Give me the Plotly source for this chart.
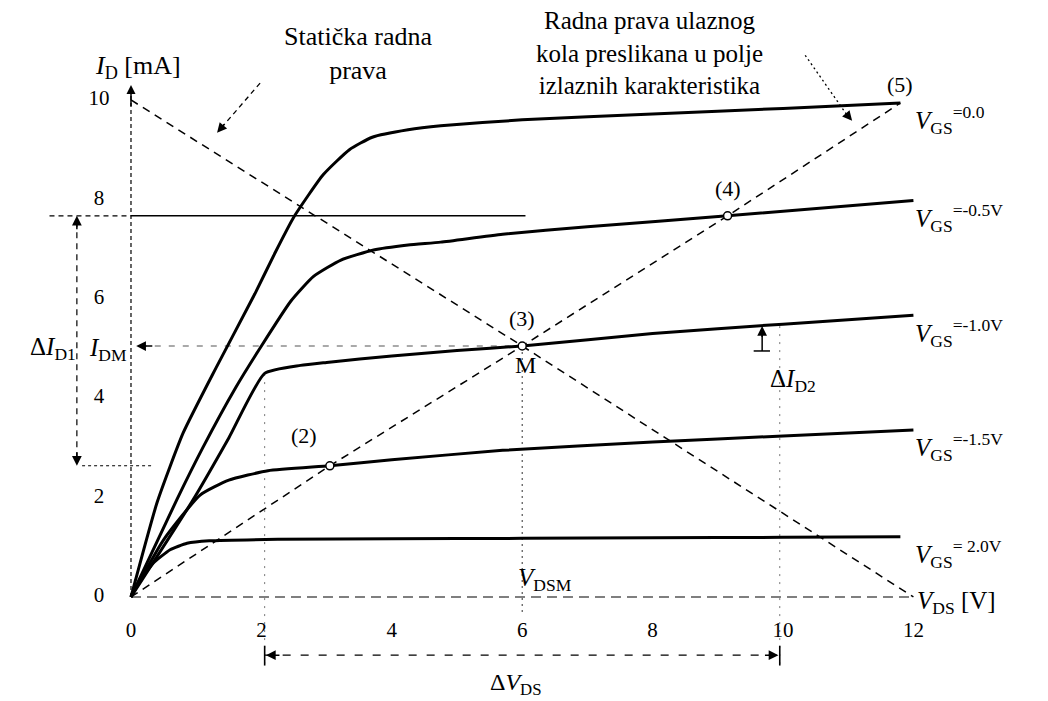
import plotly.graph_objects as go

# ---- output characteristics I_D = f(V_DS) of the JFET, one per V_GS ----
vds_0 = [0, 0.4, 0.8, 1.3, 1.9, 2.2, 2.5, 2.95, 3.35, 3.7, 4.25, 4.75, 6.0, 8.0, 10.0, 11.8]
id_0 = [0, 1.9, 3.3, 4.6, 6.1, 6.9, 7.65, 8.5, 9.0, 9.25, 9.4, 9.48, 9.6, 9.72, 9.83, 9.94]

vds_05 = [0, 0.7, 1.1, 1.6, 2.0, 2.45, 2.8, 3.22, 3.72, 4.25, 4.75, 5.7, 7.0, 9.15, 12.0]
id_05 = [0, 1.95, 3.0, 4.2, 5.05, 5.95, 6.45, 6.78, 6.98, 7.08, 7.14, 7.3, 7.45, 7.67, 7.98]

vds_10 = [0, 0.95, 1.5, 2.05, 2.6, 3.0, 4.0, 5.0, 6.0, 8.0, 10.0, 12.0]
id_10 = [0, 1.95, 3.2, 4.5, 4.66, 4.72, 4.85, 4.96, 5.05, 5.3, 5.49, 5.67]

vds_15 = [0, 0.5, 1.06, 1.5, 2.1, 3.05, 4.0, 5.7, 8.0, 10.0, 12.0]
id_15 = [0, 1.15, 2.05, 2.35, 2.54, 2.64, 2.76, 2.95, 3.12, 3.24, 3.36]

vds_20 = [0, 0.14, 0.34, 0.6, 0.86, 1.2, 2.25, 4.0, 6.0, 8.0, 10.0, 11.8]
id_20 = [0, 0.34, 0.68, 0.95, 1.08, 1.13, 1.16, 1.17, 1.18, 1.19, 1.2, 1.21]

vgs_text = ["=0.0", "=-0.5V", "=-1.0V", "=-1.5V", "= 2.0V"]

# static load line (V_DS axis crossing 12 V, I_D axis crossing 10 mA, through M)
load_v = [0.0, 6.0, 12.0]
load_i = [10.0, 5.05, 0.0]

# input-circuit load line mapped to the output plane, points (2) (3) (4) (5)
op_label = ["(2)", "(3)", "(4)", "(5)"]
op_v = [3.05, 6.0, 9.15, 11.8]
op_i = [2.64, 5.05, 7.67, 9.94]

x_ticks = [0, 2, 4, 6, 8, 10, 12]
y_ticks = [0, 2, 4, 6, 8, 10]

SERIF = "Times New Roman, Liberation Serif, serif"
BLACK = "#000000"

fig = go.Figure()

def line(x, y, width=1.4, dash="solid", color=BLACK, shape="linear"):
    fig.add_trace(go.Scatter(x=x, y=y, mode="lines", hoverinfo="skip",
                             line=dict(color=color, width=width, dash=dash, shape=shape)))

def head(x, y, ax, ay, size=1.3, width=1.5):
    fig.add_annotation(x=x, y=y, ax=ax, ay=ay, xref="x", yref="y", axref="x", ayref="y",
                       text="", showarrow=True, arrowhead=2, arrowsize=size,
                       arrowwidth=width, arrowcolor=BLACK)

def label(x, y, txt, size=24, xanchor="center", yanchor="middle", color=BLACK):
    fig.add_annotation(x=x, y=y, xref="x", yref="y", text=txt, showarrow=False,
                       xanchor=xanchor, yanchor=yanchor,
                       font=dict(family=SERIF, size=size, color=color))

# axes drawn as broken lines
line([0, 0], [0, 10.1], width=1.2, dash="4px,3px")
head(0, 10.3, 0, 9.85, size=1.2)
line([0, 12], [0, 0], width=1.2, dash="10px,6px")

# faint dotted guides
line([6.0, 6.0], [-0.3, op_i[1]], width=1.1, dash="2px,4px", color="#444")
line([0.15, op_v[1]], [op_i[1], op_i[1]], width=1.1, dash="6px,8px", color="#555")
line([2.05, 2.05], [-1.35, 4.5], width=1.0, dash="2px,6px", color="#777")
line([9.95, 9.95], [-1.35, 5.45], width=1.0, dash="2px,6px", color="#777")

# ΔI_D1 range: horizontal markers at the I_D of points (4) and (2)
line([-1.25, 0.0], [op_i[2], op_i[2]], width=1.2, dash="5px,4px")
line([0.0, 6.05], [op_i[2], op_i[2]], width=1.6)
line([-0.75, 0.35], [op_i[0], op_i[0]], width=1.1, dash="3px,3px")
line([-0.83, -0.83], [op_i[0] + 0.15, op_i[2] - 0.15], width=1.2, dash="6px,5px")
head(-0.83, op_i[2], -0.83, op_i[2] - 0.3)
head(-0.83, op_i[0], -0.83, op_i[0] + 0.3)

# I_DM marker
head(0.08, op_i[1], 0.35, op_i[1])

# ΔV_DS range
line([2.05, 9.95], [-1.17, -1.17], width=1.2, dash="8px,10px")
line([2.05, 2.05], [-0.98, -1.38], width=1.6)
line([9.95, 9.95], [-0.98, -1.38], width=1.6)
head(2.07, -1.17, 2.3, -1.17)
head(9.93, -1.17, 9.7, -1.17)

# ΔI_D2 marker
line([9.55, 9.8], [4.95, 4.95], width=1.5)
line([9.68, 9.68], [4.95, 5.3], width=1.5)
head(9.68, 5.45, 9.68, 5.2)

# load lines
line(load_v, load_i, width=1.5, dash="8px,6px")
line([0] + op_v, [0] + op_i, width=1.5, dash="8px,6px")

# characteristics
for vx, iy in [(vds_0, id_0), (vds_05, id_05), (vds_10, id_10), (vds_15, id_15), (vds_20, id_20)]:
    fig.add_trace(go.Scatter(x=vx, y=iy, mode="lines", hoverinfo="skip",
                             line=dict(color=BLACK, width=3, shape="spline", smoothing=0.5)))

# operating points
fig.add_trace(go.Scatter(x=op_v[:3], y=op_i[:3], mode="markers", hoverinfo="skip",
                         marker=dict(symbol="circle", size=8, color="white",
                                     line=dict(color=BLACK, width=1.5))))

# callout arrows
line([1.98, 1.38], [10.34, 9.43], width=1.3, dash="5px,4px")
head(1.32, 9.34, 1.45, 9.54)
line([10.34, 10.98], [10.9, 9.7], width=1.3, dash="2px,3px")
head(11.06, 9.58, 10.95, 9.75)

# tick labels
fig.add_trace(go.Scatter(x=x_ticks, y=[-0.70] * len(x_ticks), mode="text",
                         text=[str(v) for v in x_ticks], hoverinfo="skip",
                         textfont=dict(family=SERIF, size=21, color=BLACK)))
fig.add_trace(go.Scatter(x=[-0.49] * len(y_ticks), y=y_ticks, mode="text",
                         text=[str(v) for v in y_ticks], hoverinfo="skip",
                         textfont=dict(family=SERIF, size=21, color=BLACK)))

# texts
label(-0.58, 10.66, "<i>I</i><sub>D</sub> [mA]", size=26, xanchor="left")
label(3.48, 10.93, "Statička radna<br>prava", size=26)
label(7.95, 10.95, "Radna prava ulaznog<br>kola preslikana u polje<br>izlaznih karakteristika", size=25)
label(12.02, -0.12, "<i>V</i><sub>DS</sub> [V]", size=25, xanchor="left")

end_i = [id_0[-1], id_05[-1], id_10[-1], id_15[-1], id_20[-1]]
for ii, t in zip(end_i, vgs_text):
    label(12.0, ii - 0.35, "<i>V</i><sub>GS</sub><sup>" + t + "</sup>", size=25, xanchor="left")

for k in range(4):
    dy = 0.55 if k != 3 else 0.38
    label(op_v[k] - (0.4 if k == 0 else 0), op_i[k] + dy + (0.0 if k else 0.05), op_label[k], size=22)
label(op_v[1] + 0.05, op_i[1] - 0.38, "M", size=24)

label(-1.2, 5.0, "Δ<i>I</i><sub>D1</sub>", size=25)
label(-0.35, 4.97, "<i>I</i><sub>DM</sub>", size=25)
label(10.15, 4.35, "Δ<i>I</i><sub>D2</sub>", size=25)
label(6.35, 0.35, "<i>V</i><sub>DSM</sub>", size=25)
label(5.9, -1.76, "Δ<i>V</i><sub>DS</sub>", size=24)

fig.update_layout(
    width=1048, height=701,
    margin=dict(l=0, r=0, t=0, b=0),
    showlegend=False,
    paper_bgcolor="white", plot_bgcolor="white",
    xaxis=dict(range=[-2.009, 14.064], visible=False, fixedrange=True),
    yaxis=dict(range=[-2.093, 12.012], visible=False, fixedrange=True),
)

fig.write_html("out.html")
